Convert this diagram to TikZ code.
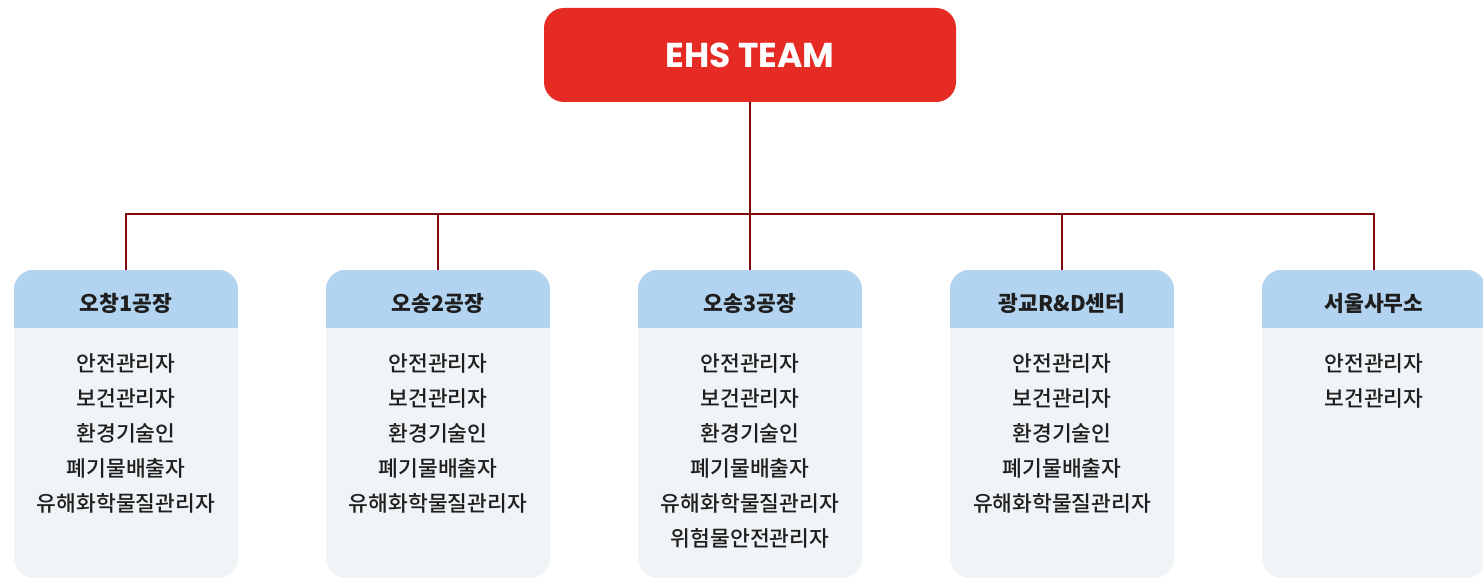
\documentclass[tikz,border=0pt]{standalone}
\usepackage{fontspec}
\setmainfont{Poppins}
\newfontfamily\krfont{Noto Sans CJK KR}
\newfontfamily\krmedium{Noto Sans CJK KR Medium}
\usetikzlibrary{positioning}
\definecolor{ehsred}{RGB}{229,43,36}
\definecolor{linkred}{RGB}{128,10,10}
\definecolor{headblue}{RGB}{178,212,240}
\definecolor{bodygrey}{RGB}{240,244,246}
\definecolor{textdark}{RGB}{30,30,30}
\tikzstyle{link} = [line width=2.5pt, color=linkred]
\tikzstyle{teambox} = [rectangle, rounded corners=20pt, fill=ehsred, text=white, minimum width=412pt, minimum height=94pt, font=\bfseries\fontsize{34.5}{40}\selectfont]
\tikzstyle{sitebox} = [rectangle, rounded corners=20pt, fill=bodygrey, minimum width=224pt, minimum height=308pt, inner sep=0pt]
\tikzstyle{sitehead} = [text=textdark, inner sep=0pt, font=\krfont\bfseries\fontsize{21.5}{24}\selectfont]
\tikzstyle{duty} = [text=textdark, inner sep=0pt, align=center, font=\krmedium\fontsize{21.5}{35}\selectfont]

\begin{document}
\begin{tikzpicture}[x=1pt, y=-1pt]
\useasboundingbox (0,0) rectangle (1483,580);
% Team
\node[teambox] (hq) at (750,55) {EHS TEAM};
\coordinate (bus) at (750,214);

% Sites
\foreach \i/\x/\title/\duties in {
  1/126/오창1공장/{안전관리자\\보건관리자\\환경기술인\\폐기물배출자\\유해화학물질관리자},
  2/438/오송2공장/{안전관리자\\보건관리자\\환경기술인\\폐기물배출자\\유해화학물질관리자},
  3/750/오송3공장/{안전관리자\\보건관리자\\환경기술인\\폐기물배출자\\유해화학물질관리자\\위험물안전관리자},
  4/1062/광교R\&D센터/{안전관리자\\보건관리자\\환경기술인\\폐기물배출자\\유해화학물질관리자},
  5/1374/서울사무소/{안전관리자\\보건관리자}} {
  \node[sitebox] (site\i) at (\x,424) {};
  \begin{scope}
    \clip[rounded corners=20pt] (site\i.north west) rectangle (site\i.south east);
    \fill[headblue] (site\i.north west) rectangle ([yshift=-58pt]site\i.north east);
  \end{scope}
  \node[sitehead] (head\i) at (\x,303) {\title};
  \node[duty, anchor=north] (duty\i) at (\x,353) {\duties};
}

% Links
\draw[link] (hq.south) -- (bus);
\draw[link] (site1.north) |- (site5.north |- bus) -- (site5.north);
\draw[link] (site2.north) -- (site2.north |- bus);
\draw[link] (site3.north) -- (bus);
\draw[link] (site4.north) -- (site4.north |- bus);
\end{tikzpicture}
\end{document}
